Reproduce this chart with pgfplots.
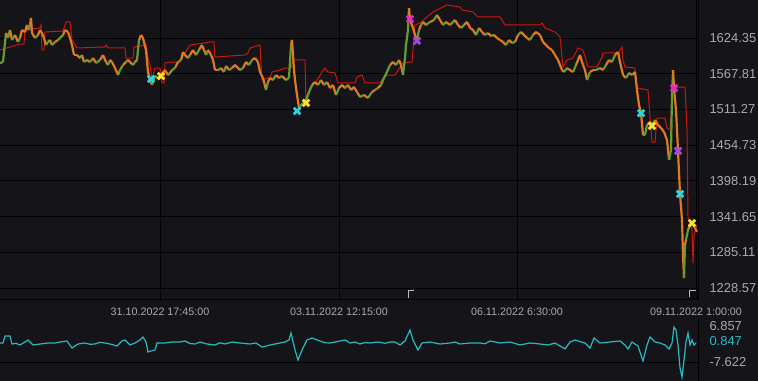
\documentclass[border=0pt]{standalone}
\usepackage{fontspec}
\setmainfont{Liberation Sans}
\usepackage{pgfplots}
\pgfplotsset{compat=1.18}
\usepackage{pgfplotstable}

\definecolor{bg}{RGB}{20,20,25}
\definecolor{gridc}{RGB}{3,3,5}
\definecolor{lab}{RGB}{170,170,170}
\definecolor{redl}{RGB}{205,22,14}
\definecolor{cyn}{RGB}{40,215,228}
\definecolor{yel}{RGB}{248,228,40}
\definecolor{mag}{RGB}{232,40,200}
\definecolor{pur}{RGB}{165,70,220}
\definecolor{osc}{RGB}{40,185,195}
\definecolor{lastg}{RGB}{90,170,60}
\definecolor{lastr}{RGB}{225,30,25}

% price (close path), c = 1 rising (green) / 0 falling (orange)
\pgfplotstableread{
x p c
0 1584.9 1
3 1586.5 1
6 1632.4 0
8 1624.5 1
10 1637.2 0
12 1621.4 1
15 1629.3 0
18 1618.2 1
20 1624.5 0
22 1637.2 0
25 1634.0 0
27 1645.1 0
29 1637.2 1
31 1656.2 0
32 1632.4 0
35 1624.5 1
38 1629.3 0
40 1637.2 0
42 1632.4 0
44 1624.5 0
46 1613.4 1
48 1618.2 1
50 1621.4 0
52 1613.4 1
55 1618.2 0
58 1621.4 1
60 1624.5 1
63 1629.3 0
65 1637.2 0
68 1634.0 0
70 1624.5 0
72 1613.4 0
74 1597.6 0
77 1597.6 0
80 1592.8 1
82 1597.6 0
84 1586.5 1
87 1589.7 0
90 1586.5 1
93 1592.8 0
96 1584.9 1
100 1589.7 0
103 1597.6 0
106 1586.5 0
108 1581.8 1
110 1589.7 0
112 1586.5 0
115 1577.0 0
118 1565.9 1
120 1573.8 1
123 1581.8 0
126 1586.5 1
128 1589.7 0
130 1586.5 0
133 1581.8 1
135 1586.5 0
137 1589.7 1
139 1621.4 0
141 1629.3 0
143 1624.5 0
146 1605.5 0
148 1570.7 0
150 1558.0 0
152 1550.1 1
155 1564.3 0
158 1561.2 1
161 1565.9 0
165 1573.8 0
168 1565.9 1
170 1569.1 0
172 1573.8 1
175 1577.0 0
178 1586.5 1
181 1589.7 0
183 1602.3 0
185 1597.6 0
188 1592.8 1
190 1597.6 0
193 1605.5 0
196 1597.6 1
199 1605.5 0
202 1613.4 0
204 1605.5 0
206 1597.6 1
208 1605.5 0
211 1597.6 0
213 1589.7 0
215 1573.8 0
218 1573.8 1
221 1577.0 0
224 1570.7 1
226 1580.2 0
229 1573.8 1
232 1577.0 0
235 1581.8 0
238 1577.0 0
240 1573.8 1
243 1577.0 0
246 1586.5 0
249 1581.8 1
252 1589.7 0
255 1592.8 0
258 1586.5 0
260 1570.7 0
263 1561.2 0
266 1542.2 1
268 1554.8 0
270 1561.2 0
273 1558.0 1
276 1565.9 0
279 1561.2 1
282 1564.3 0
286 1558.0 1
289 1561.2 1
291 1613.4 0
292 1621.4 0
293 1597.6 0
294 1573.8 0
295 1558.0 0
297 1534.3 0
299 1513.7 1
303 1521.6 0
306 1526.3 1
309 1539.0 1
312 1550.1 0
315 1554.8 0
318 1550.1 1
321 1558.0 0
324 1550.1 1
327 1554.8 0
330 1545.3 0
333 1550.1 0
336 1534.3 1
339 1545.3 0
342 1550.1 0
345 1545.3 1
348 1550.1 0
351 1542.2 0
354 1546.9 0
357 1539.0 0
360 1531.1 1
364 1534.3 0
368 1529.5 1
372 1539.0 0
375 1542.2 1
378 1545.3 0
381 1550.1 1
384 1561.2 1
387 1570.7 1
390 1581.8 0
393 1586.5 0
396 1581.8 1
399 1589.7 0
401 1581.8 0
403 1565.9 1
405 1592.8 1
406 1613.4 1
408 1637.2 1
409 1672.0 0
410 1653.0 0
413 1640.4 0
415 1629.3 0
417 1621.4 1
419 1637.2 0
421 1645.1 1
423 1649.9 0
426 1645.1 1
430 1649.9 0
434 1653.0 1
437 1660.9 0
440 1653.0 0
443 1645.1 1
446 1649.9 0
450 1645.1 1
453 1649.9 0
455 1653.0 0
458 1645.1 0
461 1640.4 1
464 1645.1 0
467 1649.9 0
470 1640.4 0
473 1637.2 0
476 1629.3 1
479 1640.4 0
482 1634.0 0
485 1629.3 1
488 1632.4 0
491 1627.7 1
494 1629.3 0
497 1624.5 0
500 1621.4 0
503 1618.2 0
506 1613.4 1
509 1621.4 0
512 1616.6 1
515 1618.2 0
518 1629.3 1
521 1634.0 0
524 1629.3 0
527 1624.5 0
530 1621.4 1
533 1629.3 0
536 1634.0 0
540 1629.3 0
543 1618.2 0
546 1613.4 0
549 1608.7 0
552 1605.5 0
555 1597.6 0
558 1589.7 0
560 1581.8 0
562 1573.8 0
564 1570.7 1
567 1577.0 0
570 1573.8 0
573 1570.7 1
576 1581.8 0
580 1597.6 0
583 1581.8 0
585 1573.8 0
587 1558.0 1
590 1570.7 0
593 1573.8 0
596 1573.8 1
600 1577.0 0
603 1573.8 1
606 1581.8 0
609 1589.7 0
612 1586.5 1
615 1597.6 0
618 1602.3 0
620 1586.5 0
623 1565.9 0
626 1561.2 1
629 1569.1 0
632 1565.9 1
635 1570.7 0
637 1542.2 0
639 1518.4 0
641 1505.7 0
643 1470.9 0
645 1470.9 1
647 1486.8 0
650 1491.5 0
652 1486.8 1
655 1494.7 0
658 1486.8 0
661 1482.0 0
664 1475.7 0
667 1463.0 0
669 1431.3 1
671 1447.1 1
672 1534.3 1
673 1573.8 0
674 1545.3 0
676 1510.5 0
678 1445.6 0
680 1377.5 0
682 1336.3 0
683 1280.9 0
684 1244.4 1
685 1296.7 0
686 1304.6 1
688 1320.5 0
690 1328.4 1
692 1331.5 0
695 1323.6 0
697 1317.3 0
}\price

\pgfplotstableread{
x p
0 1605.5
10 1610.3
20 1615.0
24 1615.0
25 1637.2
40 1640.4
41 1645.1
42 1605.5
44 1605.5
45 1634.0
63 1635.6
66 1649.9
70 1649.9
72 1621.4
77 1608.7
105 1610.3
106 1613.4
108 1608.7
125 1608.7
126 1592.8
133 1592.8
134 1610.3
146 1613.4
148 1592.8
150 1581.8
152 1558.0
155 1577.0
160 1577.0
162 1553.3
164 1553.3
165 1584.9
172 1586.5
180 1586.5
185 1600.8
190 1613.4
205 1616.6
210 1618.2
214 1618.2
215 1594.4
245 1597.6
248 1600.8
250 1608.7
260 1613.4
262 1558.0
268 1561.2
270 1562.8
272 1570.7
280 1573.8
285 1577.0
291 1577.0
293 1589.7
305 1589.7
306 1521.6
310 1542.2
313 1550.1
317 1558.0
322 1570.7
325 1577.0
328 1570.7
335 1569.1
338 1553.3
355 1553.3
357 1562.8
362 1565.9
365 1553.3
380 1553.3
383 1561.2
387 1565.9
395 1565.9
403 1584.9
412 1586.5
413 1605.5
415 1645.1
420 1648.3
433 1665.7
447 1676.8
460 1673.6
462 1668.9
473 1665.7
478 1657.8
500 1657.8
505 1645.1
540 1645.1
542 1648.3
545 1640.4
555 1634.0
560 1626.1
563 1578.6
567 1589.7
573 1592.8
578 1608.7
583 1605.5
585 1594.4
588 1578.6
597 1578.6
602 1594.4
603 1600.8
618 1600.8
622 1610.3
623 1589.7
625 1578.6
635 1577.0
637 1545.3
648 1542.2
650 1499.4
652 1459.8
655 1459.8
657 1497.8
665 1497.8
667 1482.0
670 1478.8
673 1546.9
685 1546.9
687 1478.8
688 1341.0
692 1320.5
693 1268.2
694 1312.5
697 1328.4
}\redline

\pgfplotstableread{
x v
0 0.02
3 0.02
5 2.84
10 2.84
12 -0.38
16 -0.10
20 -0.78
25 0.43
28 1.23
33 -0.78
40 -0.38
48 0.02
55 0.02
60 0.43
67 0.83
72 -1.99
78 -0.38
85 0.02
90 -0.50
95 -0.38
100 0.30
105 0.02
110 -0.38
117 -1.18
122 0.83
125 1.23
130 -0.78
135 0.02
140 1.23
143 2.43
146 0.43
148 -3.60
151 -3.19
155 -2.79
157 0.02
165 0.02
172 0.43
180 0.43
185 0.83
190 -0.20
195 -0.38
200 0.43
207 -0.38
215 -0.78
220 0.10
225 -0.38
232 0.43
240 0.02
250 -0.38
256 0.02
262 -1.59
270 -0.78
280 0.02
285 0.43
289 1.23
291 4.04
295 -2.79
298 -6.81
302 -2.79
307 1.23
312 2.03
320 0.83
325 0.10
330 0.02
340 0.83
345 1.23
350 0.02
355 0.40
360 -0.38
365 0.20
370 0.02
378 0.43
385 -0.10
390 0.43
395 0.43
400 -0.78
405 0.83
410 5.25
413 1.23
418 -2.79
422 0.02
430 0.43
440 -0.38
450 0.02
455 0.40
460 -0.38
470 0.02
480 0.02
485 -0.30
490 0.83
500 0.02
510 0.43
520 -0.78
530 0.02
540 -0.38
548 -0.78
555 0.02
565 -2.39
570 0.43
575 1.23
585 0.02
590 -1.99
594 2.03
600 0.02
610 0.43
620 0.83
625 -0.78
628 -2.39
632 0.43
638 -1.18
643 -7.21
647 -0.78
650 2.43
655 0.43
660 0.02
665 -0.78
669 -2.39
672 0.02
674 6.45
676 5.25
678 -0.78
680 -10.03
682 -13.65
684 -6.81
686 0.43
688 4.04
690 -0.78
692 1.23
694 -0.78
696 0.02
}\osci

\begin{document}
\begin{tikzpicture}
\fill[bg] (0bp,0bp) rectangle (758bp,381bp);
\useasboundingbox (0bp,0bp) rectangle (758bp,381bp);

\begin{axis}[
  at={(0bp,81bp)}, anchor=south west,
  scale only axis, width=698bp, height=300bp,
  xmin=0, xmax=698, ymin=1209.6, ymax=1684.7,
  axis x line*=bottom, axis y line*=right,
  x axis line style={draw=gridc, line width=1bp},
  y axis line style={draw=gridc, line width=1bp},
  major tick length=0pt,
  xtick={160,339,517,696},
  xticklabels={31.10.2022 17:45:00, 03.11.2022 12:15:00, 06.11.2022 6:30:00, 09.11.2022 1:00:00},
  ytick={1228.57,1285.11,1341.65,1398.19,1454.73,1511.27,1567.81,1624.35},
  yticklabels={1228.57,1285.11,1341.65,1398.19,1454.73,1511.27,1567.81,1624.35},
  grid=major, major grid style={draw=gridc, line width=1bp},
  tick label style={text=lab},
  xticklabel style={font=\fontsize{10.8}{13}\selectfont, yshift=-4bp},
  yticklabel style={font=\fontsize{13}{15}\selectfont, anchor=west, xshift=8bp},
  point meta min=0, point meta max=1,
  colormap={og}{rgb255=(226,120,32) rgb255=(96,158,46)},
]
\addplot[redl, line width=1bp] table[x=x, y=p] {\redline};
\addplot[mesh, shader=flat corner, point meta=explicit, line width=2.2bp]
  table[x=x, y=p, meta=c] {\price};
\addplot[only marks, mark=x, mark size=4.6bp, line width=2.8bp, cyn]
  coordinates {(151,1559.6) (297,1508.9) (641,1505.7) (680,1377.5)};
\addplot[only marks, mark=x, mark size=4.6bp, line width=2.8bp, yel]
  coordinates {(161,1564.3) (306,1521.6) (652,1485.2) (692,1331.5)};
\addplot[only marks, mark=x, mark size=4.6bp, line width=2.8bp, mag]
  coordinates {(410,1654.6) (674,1545.3)};
\addplot[only marks, mark=x, mark size=4.6bp, line width=2.8bp, pur]
  coordinates {(417,1619.8) (678,1445.6)};
\node[anchor=west, xshift=8bp, text=lastg, font=\fontsize{13}{15}\selectfont]
  at (axis cs:698,1493.13) {1493.13};
\node[anchor=west, xshift=8bp, text=lastr, font=\fontsize{13}{15}\selectfont]
  at (axis cs:698,1476.47) {1476.47};
\end{axis}

\begin{axis}[
  at={(0bp,0bp)}, anchor=south west,
  scale only axis, width=698bp, height=63bp,
  xmin=0, xmax=698, ymin=-15.25, ymax=10.07,
  axis x line=none, axis y line*=right,
  y axis line style={draw=gridc, line width=1bp},
  major tick length=0pt,
  ytick={-7.622}, yticklabels={-7.622},
  extra y ticks={6.857}, extra y tick labels={6.857},
  extra y tick style={grid=none},
  ymajorgrids, major grid style={draw=gridc, line width=1bp},
  tick label style={text=lab},
  yticklabel style={font=\fontsize{13}{15}\selectfont, anchor=west, xshift=8bp},
  clip=false,
]
\addplot[osc, line width=1.2bp] table[x=x, y=v] {\osci};
\node[anchor=west, xshift=8bp, text=osc, font=\fontsize{13}{15}\selectfont]
  at (axis cs:698,0.847) {0.847};
\end{axis}

% scroll handles
\draw[lab!80, line width=1bp] (408.5bp,83bp) -- (408.5bp,90bp) -- (414bp,90bp);
\draw[gridc, fill=bg!70!black] (688bp,83bp) rectangle (697bp,91bp);
\draw[lab!80, line width=1bp] (689.5bp,84bp) -- (689.5bp,90bp) -- (696bp,90bp);
\end{tikzpicture}
\end{document}
